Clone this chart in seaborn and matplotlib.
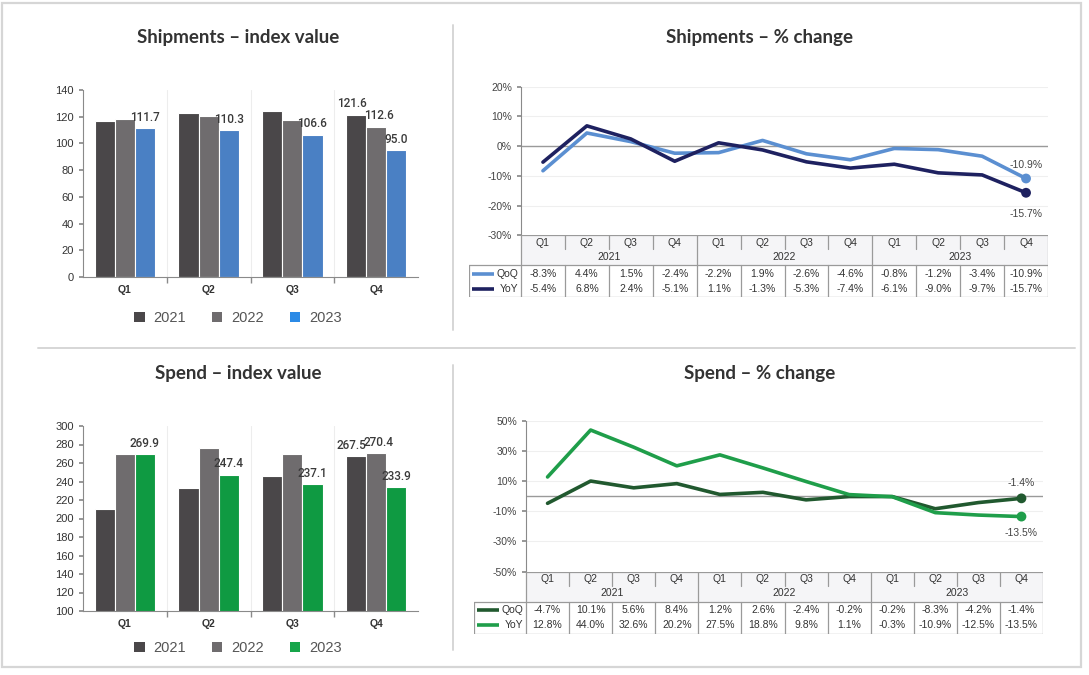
import numpy as np
import pandas as pd
import matplotlib
matplotlib.use('Agg')
import matplotlib.pyplot as plt
import seaborn as sns
from matplotlib.patches import Patch, Rectangle
from matplotlib.lines import Line2D

# index values (bars)
quarters = ['Q1', 'Q2', 'Q3', 'Q4']
years = ['2021', '2022', '2023']
ship_2021 = [117.0, 122.5, 124.3, 121.6]
ship_2022 = [118.3, 120.8, 117.5, 112.6]
ship_2023 = [111.7, 110.3, 106.6, 95.0]
spend_2021 = [210.8, 232.5, 245.6, 267.5]
spend_2022 = [269.8, 276.5, 270.2, 270.4]
spend_2023 = [269.9, 247.4, 237.1, 233.9]

# % change (lines + table)
period_q = quarters * 3
period_years = ['2021', '2022', '2023']
ship_qoq = [-8.3, 4.4, 1.5, -2.4, -2.2, 1.9, -2.6, -4.6, -0.8, -1.2, -3.4, -10.9]
ship_yoy = [-5.4, 6.8, 2.4, -5.1, 1.1, -1.3, -5.3, -7.4, -6.1, -9.0, -9.7, -15.7]
spend_qoq = [-4.7, 10.1, 5.6, 8.4, 1.2, 2.6, -2.4, -0.2, -0.2, -8.3, -4.2, -1.4]
spend_yoy = [12.8, 44.0, 32.6, 20.2, 27.5, 18.8, 9.8, 1.1, -0.3, -10.9, -12.5, -13.5]

W, H = 1089, 675


def box(l, t, r, b):
    return [l / W, 1 - b / H, (r - l) / W, (b - t) / H]


sns.set_theme(style='white')
plt.rcParams['font.family'] = ['Liberation Sans', 'DejaVu Sans']

fig = plt.figure(figsize=(W / 100, H / 100), dpi=100)
fig.patch.set_facecolor('white')

# panel frame + dividers
border = '#d6d6d6'
fig.add_artist(Rectangle((2 / W, 1 - 667 / H), 1079 / W, 664 / H, transform=fig.transFigure,
                         fill=False, ec=border, lw=1.6))
for (x1, y1, x2, y2) in [(453, 25, 453, 330), (453, 365, 453, 650), (38, 348, 1075, 348)]:
    fig.add_artist(Line2D([x1 / W, x2 / W], [1 - y1 / H, 1 - y2 / H], transform=fig.transFigure,
                          color=border, lw=1.4))

title_kw = dict(ha='center', va='center', fontsize=13.5, fontweight='bold', color='#333333',
                family=['Lato', 'DejaVu Sans'])
fig.text(238 / W, 1 - 37 / H, 'Shipments – index value', **title_kw)
fig.text(760 / W, 1 - 37 / H, 'Shipments – % change', **title_kw)
fig.text(238 / W, 1 - 373 / H, 'Spend – index value', **title_kw)
fig.text(760 / W, 1 - 373 / H, 'Spend – % change', **title_kw)


def bar_panel(rect, values, palette, legend_cols, ylim, yticks, legend_y):
    ax = fig.add_axes(rect)
    df = pd.DataFrame({'Quarter': quarters * 3,
                       'Year': np.repeat(years, 4),
                       'Value': np.concatenate(values)})
    sns.barplot(data=df, x='Quarter', y='Value', hue='Year', palette=palette, width=0.72,
                saturation=1, edgecolor='white', linewidth=0.8, errorbar=None, legend=False, ax=ax)
    for i, cont in enumerate(ax.containers):
        labels = [f'{v:.1f}' if (i == 2 or q == 3) else '' for q, v in enumerate(values[i])]
        anns = ax.bar_label(cont, labels=labels, padding=3, fontsize=8.5, color='#3a3a3a',
                            family=['Roboto', 'DejaVu Sans'], fontweight='medium')
        # nudge the crowded Q4 labels apart
        if i < 2:
            anns[3].xyann = (-3 if i == 0 else 2, 3)
    ax.set_ylim(ylim)
    ax.set_yticks(yticks)
    ax.set_xlim(-0.5, 3.5)
    ax.set_xlabel('')
    ax.set_ylabel('')
    for s in ['top', 'right']:
        ax.spines[s].set_visible(False)
    for s in ['left', 'bottom']:
        ax.spines[s].set_color('#8a8a8a')
        ax.spines[s].set_linewidth(0.8)
    ax.set_xticks([0.5, 1.5, 2.5], minor=True)
    ax.grid(True, which='minor', axis='x', color='#ededed', lw=0.8)
    ax.tick_params(axis='x', which='major', length=0, labelsize=7.5, colors='#333333', pad=6)
    ax.tick_params(axis='x', which='minor', length=4, color='#8a8a8a', direction='out', bottom=True)
    ax.tick_params(axis='y', length=3, color='#8a8a8a', labelsize=8, colors='#333333', left=True)
    for t in ax.get_xticklabels():
        t.set_fontweight('bold')
    handles = [Patch(fc=c, ec='none') for c in legend_cols]
    fig.legend(handles, years, loc='center', bbox_to_anchor=(238 / W, 1 - legend_y / H), ncol=3,
               frameon=False, fontsize=10.5, labelcolor='#555555', handlelength=0.7,
               handleheight=0.7, handletextpad=0.6, columnspacing=1.8)
    return ax


def line_panel(rect, qoq, yoy, colors, ylim, yticks, offsets):
    ax = fig.add_axes(rect)
    df = pd.DataFrame({'idx': list(range(12)) * 2,
                       'val': qoq + yoy,
                       'series': ['QoQ'] * 12 + ['YoY'] * 12})
    ax.axhline(0, color='#9a9a9a', lw=1, zorder=1)
    sns.lineplot(data=df, x='idx', y='val', hue='series', palette=colors, linewidth=2.6,
                 legend=False, ax=ax, zorder=3)
    last = df[df['idx'] == 11]
    sns.scatterplot(data=last, x='idx', y='val', hue='series', palette=colors, s=50,
                    edgecolor='none', legend=False, ax=ax, zorder=4)
    for (_, row), off in zip(last.iterrows(), offsets):
        ax.annotate(f"{row['val']:.1f}%", (row['idx'], row['val']), xytext=(0, off),
                    textcoords='offset points', ha='center', va='center', fontsize=7.5,
                    color='#444444')
    ax.set_xlim(-0.5, 11.5)
    ax.set_ylim(ylim)
    ax.set_yticks(yticks)
    ax.set_yticklabels([f'{t}%' for t in yticks])
    ax.set_xticks([])
    ax.set_xlabel('')
    ax.set_ylabel('')
    for s in ['top', 'right', 'bottom']:
        ax.spines[s].set_visible(False)
    ax.spines['left'].set_color('#8a8a8a')
    ax.spines['left'].set_linewidth(0.8)
    ax.yaxis.grid(True, color='#efefef', lw=0.8)
    ax.tick_params(axis='y', length=3, color='#8a8a8a', labelsize=7.5, colors='#444444', left=True)
    return ax


def table_panel(rect, qoq, yoy, colors, hdr):
    ax = fig.add_axes(rect)
    ax.set_xlim(-0.5 - hdr, 11.5)
    ax.set_ylim(62, 0)
    ax.axis('off')
    x0 = -0.5
    lc = '#9a9a9a'
    lw = 0.9
    ax.add_patch(Rectangle((x0, 0), 12, 30, fc='#f5f5f7', ec='none'))
    ax.plot([x0, 11.5], [0, 0], color=lc, lw=lw)
    ax.plot([x0 - hdr, 11.5], [30, 30], color=lc, lw=lw)
    ax.plot([x0 - hdr, 11.5], [62, 62], color=lc, lw=lw)
    ax.plot([x0 - hdr, x0 - hdr], [30, 62], color=lc, lw=lw)
    ax.plot([x0, x0], [0, 62], color=lc, lw=lw)
    ax.plot([11.5, 11.5], [0, 62], color=lc, lw=lw)
    for i in range(1, 12):
        xb = x0 + i
        if i % 4 == 0:
            ax.plot([xb, xb], [0, 62], color=lc, lw=lw)
        else:
            ax.plot([xb, xb], [0, 14], color=lc, lw=lw)
            ax.plot([xb, xb], [30, 62], color=lc, lw=lw)
    kw = dict(ha='center', va='center', fontsize=7.5, color='#333333')
    for i, q in enumerate(period_q):
        ax.text(i, 7.5, q, **kw)
        ax.text(i, 38.5, f'{qoq[i]:.1f}%', **kw)
        ax.text(i, 53.5, f'{yoy[i]:.1f}%', **kw)
    for k, y in enumerate(period_years):
        ax.text(4 * k + 1.5, 22, y, **kw)
    for yy, name, c in [(38.5, 'QoQ', colors[0]), (53.5, 'YoY', colors[1])]:
        ax.plot([x0 - hdr + 0.06, x0 - hdr + 0.58], [yy, yy], color=c, lw=2.6,
                solid_capstyle='butt')
        ax.text(x0 - 0.06, yy, name, ha='right', va='center', fontsize=7.5, color='#333333')
    return ax


blue_bars = ['#4a4749', '#6f6c6e', '#4a80c4']
blue_leg = ['#4a4749', '#6f6c6e', '#2b8ae6']
green_bars = ['#4a4749', '#6f6c6e', '#0f9a42']
green_leg = ['#4a4749', '#6f6c6e', '#16a54a']
ship_lines = ['#5b8fd1', '#1e2160']
spend_lines = ['#21592f', '#1f9e4a']

bar_panel(box(83, 90, 418, 277), [ship_2021, ship_2022, ship_2023], blue_bars, blue_leg,
          (0, 140), list(range(0, 141, 20)), 318)
bar_panel(box(83, 426, 418, 611), [spend_2021, spend_2022, spend_2023], green_bars, green_leg,
          (100, 300), list(range(100, 301, 20)), 648)

line_panel(box(521, 86.6, 1048, 235.3), ship_qoq, ship_yoy, ship_lines, (-30, 20),
           [20, 10, 0, -10, -20, -30], [10, -15])
table_panel(box(469, 235.3, 1048, 297), ship_qoq, ship_yoy, ship_lines, 1.185)

line_panel(box(526, 421, 1043, 571.5), spend_qoq, spend_yoy, spend_lines, (-50, 50),
           [50, 30, 10, -10, -30, -50], [11, -12])
table_panel(box(474, 571.5, 1043, 633.5), spend_qoq, spend_yoy, spend_lines, 1.207)

fig.savefig('out.png', dpi=100, facecolor='white')
